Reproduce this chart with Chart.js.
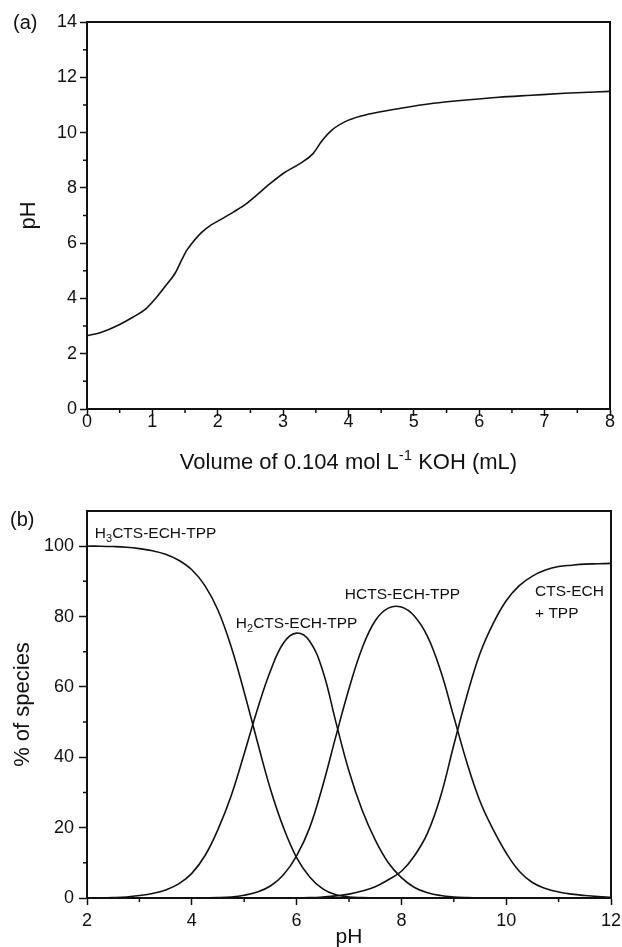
<!DOCTYPE html>
<html>
<head>
<meta charset="utf-8">
<script src="https://cdn.jsdelivr.net/npm/chart.js@4.4.1/dist/chart.umd.min.js"></script>
<style>
  html, body { margin: 0; padding: 0; background: #fff; }
  #wrap { position: relative; width: 622px; height: 947px; }
  .panel { position: absolute; left: 0; width: 622px; }
</style>
</head>
<body>
<div id="wrap">
  <div class="panel" style="top:0;height:475px"><canvas id="titration" width="622" height="475"></canvas></div>
  <div class="panel" style="top:475px;height:472px"><canvas id="species" width="622" height="472"></canvas></div>
</div>
<script>
// (a) titration curve
const volumeKOH = [0, 0.2, 0.5, 0.7, 0.9, 1.05, 1.2, 1.35, 1.45, 1.52, 1.6, 1.75, 1.9, 2.05, 2.25, 2.45,
                   2.6, 2.8, 3.0, 3.25, 3.45, 3.6, 3.75, 4.0, 4.3, 4.8, 5.3, 5.8, 6.3, 6.8, 7.3, 8.0];
const titrationPH = [2.65, 2.76, 3.06, 3.32, 3.62, 4.0, 4.45, 4.92, 5.4, 5.72, 5.98, 6.38, 6.66, 6.86, 7.14, 7.45,
                     7.75, 8.15, 8.52, 8.87, 9.22, 9.72, 10.1, 10.45, 10.66, 10.88, 11.06, 11.18, 11.28, 11.35, 11.42, 11.49];
const volumeTicks = [0, 1, 2, 3, 4, 5, 6, 7, 8];
const volumeMinor = [0.5, 1.5, 2.5, 3.5, 4.5, 5.5, 6.5, 7.5];
const phTicksA = [0, 2, 4, 6, 8, 10, 12, 14];
const phMinorA = [1, 3, 5, 7, 9, 11, 13];

// (b) species distribution, % of each species vs pH
const phGrid = [2, 2.25, 2.5, 2.75, 3, 3.25, 3.5, 3.75, 4, 4.25, 4.5, 4.75, 5, 5.25, 5.5, 5.75, 6, 6.25, 6.5, 6.75,
                7, 7.25, 7.5, 7.75, 8, 8.25, 8.5, 8.75, 9, 9.25, 9.5, 9.75, 10, 10.25, 10.5, 10.75, 11, 11.25, 11.5, 11.75, 12];
const h3Species = [100, 100, 99.9, 99.7, 99.3, 98.7, 97.7, 96.0, 93.3, 88.8,
                   81.8, 71.5, 58.5, 44.5, 31.0, 20.0, 11.5, 6.0, 2.6, 0.9,
                   0.3, 0.1, 0, 0, 0, 0, 0, 0, 0, 0,
                   0, 0, 0, 0, 0, 0, 0, 0, 0, 0, 0];
const h2Species = [0, 0, 0.1, 0.3, 0.7, 1.3, 2.3, 4.0, 7.0, 12.0,
                   19.5, 29.0, 41.0, 53.5, 64.5, 72.5, 75.3, 73.0, 64.5, 50.0,
                   36.0, 25.0, 16.5, 10.0, 5.8, 3.0, 1.5, 0.7, 0.3, 0.1,
                   0, 0, 0, 0, 0, 0, 0, 0, 0, 0, 0];
const h1Species = [0, 0, 0, 0, 0, 0, 0, 0, 0, 0.05,
                   0.1, 0.3, 0.8, 1.7, 3.4, 6.6, 12.0, 20.0, 32.0, 46.0,
                   59.5, 71.0, 78.8, 82.4, 82.7, 80.1, 74.3, 64.5, 51.5, 38.5,
                   27.5, 19.5, 12.8, 7.6, 4.4, 2.7, 1.7, 1.1, 0.7, 0.4, 0.2];
const h0Species = [0, 0, 0, 0, 0, 0, 0, 0, 0, 0,
                   0, 0, 0, 0, 0, 0, 0, 0.1, 0.3, 0.6,
                   1.1, 2.0, 3.2, 5.2, 7.6, 12.0, 18.5, 29.0, 43.5, 57.5,
                   69.5, 78.0, 84.5, 88.8, 91.5, 93.2, 94.2, 94.6, 94.9, 95.0, 95.1];
const phTicksB = [2, 4, 6, 8, 10, 12];
const phMinorB = [3, 5, 7, 9, 11];
const pctTicks = [0, 20, 40, 60, 80, 100];
const pctMinor = [10, 30, 50, 70, 90];

// species labels: text parts and anchor (pH, %)
const speciesLabels = [
  { parts: [['H'], ['3', 'sub'], ['CTS-ECH-TPP']], at: [2.15, 102.3] },
  { parts: [['H'], ['2', 'sub'], ['CTS-ECH-TPP']], at: [4.84, 76.8] },
  { parts: [['HCTS-ECH-TPP']], at: [6.92, 85.0] },
  { parts: [['CTS-ECH']], at: [10.55, 85.8] },
  { parts: [['+ TPP']], at: [10.55, 79.6] }
];

const INK = '#111';
const FONT = '"Liberation Sans", Arial, Helvetica, sans-serif';

function toPoints(xs, ys) {
  return xs.map((x, i) => ({ x: x, y: ys[i] }));
}

// draws text with sub/superscript pieces
function drawRich(ctx, parts, x, y, size, align) {
  const small = Math.round(size * 0.7);
  let width = 0;
  parts.forEach(p => {
    ctx.font = (p[1] ? small : size) + 'px ' + FONT;
    width += ctx.measureText(p[0]).width;
  });
  let cx = align === 'center' ? x - width / 2 : x;
  ctx.textAlign = 'left';
  ctx.textBaseline = 'alphabetic';
  parts.forEach(p => {
    ctx.font = (p[1] ? small : size) + 'px ' + FONT;
    let dy = 0;
    if (p[1] === 'sub') dy = size * 0.28;
    if (p[1] === 'sup') dy = -size * 0.42;
    ctx.fillText(p[0], cx, y + dy);
    cx += ctx.measureText(p[0]).width;
  });
}

function lineSet(xs, ys, monotone) {
  return {
    data: toPoints(xs, ys),
    borderColor: INK,
    borderWidth: 1.6,
    pointRadius: 0,
    fill: false,
    tension: 0.4,
    cubicInterpolationMode: monotone ? 'monotone' : 'default'
  };
}

function axis(min, max, ticks, fixed, isX, pad, tickLen) {
  return {
    type: 'linear',
    min: min,
    max: max,
    afterBuildTicks: s => { s.ticks = ticks.map(v => ({ value: v })); },
    afterFit: s => {
      if (isX) { s.height = fixed; s.paddingLeft = 0; s.paddingRight = 0; }
      else { s.width = fixed; s.paddingTop = 0; s.paddingBottom = 0; }
    },
    border: { display: true, color: INK, width: 2 },
    grid: { display: true, drawOnChartArea: false, drawTicks: true, tickLength: tickLen, tickWidth: 1.5, tickColor: INK },
    ticks: { color: INK, font: { family: FONT, size: 18 }, padding: pad, maxRotation: 0 },
    title: { display: false }
  };
}

// frame on top/right, minor ticks, and free text
function framePlugin(xMinor, yMinor, drawText) {
  return {
    id: 'frame',
    afterDraw(chart) {
      const ctx = chart.ctx, a = chart.chartArea;
      const xs = chart.scales.x, ys = chart.scales.y;
      ctx.save();
      ctx.strokeStyle = INK;
      ctx.lineWidth = 2;
      ctx.beginPath();
      ctx.moveTo(a.left, a.top);
      ctx.lineTo(a.right, a.top);
      ctx.lineTo(a.right, a.bottom);
      ctx.stroke();
      ctx.lineWidth = 1.5;
      ctx.beginPath();
      xMinor.forEach(v => {
        const px = xs.getPixelForValue(v);
        ctx.moveTo(px, a.bottom);
        ctx.lineTo(px, a.bottom + 4);
      });
      yMinor.forEach(v => {
        const py = ys.getPixelForValue(v);
        ctx.moveTo(a.left, py);
        ctx.lineTo(a.left - 4, py);
      });
      ctx.stroke();
      ctx.fillStyle = INK;
      drawText(ctx, chart);
      ctx.restore();
    }
  };
}

function rotatedText(ctx, text, x, y, size) {
  ctx.save();
  ctx.translate(x, y);
  ctx.rotate(-Math.PI / 2);
  ctx.font = size + 'px ' + FONT;
  ctx.textAlign = 'center';
  ctx.textBaseline = 'middle';
  ctx.fillText(text, 0, 0);
  ctx.restore();
}

const baseOptions = {
  responsive: false,
  animation: false,
  plugins: { legend: { display: false }, tooltip: { enabled: false } }
};

new Chart(document.getElementById('titration'), {
  type: 'line',
  data: { datasets: [lineSet(volumeKOH, titrationPH, true)] },
  options: Object.assign({}, baseOptions, {
    layout: { padding: { left: 0, top: 22, right: 12, bottom: 0 } },
    scales: {
      x: axis(0, 8, volumeTicks, 66, true, -5, 7),
      y: axis(0, 14, phTicksA, 87, false, 3, 7)
    }
  }),
  plugins: [framePlugin(volumeMinor, phMinorA, (ctx, chart) => {
    drawRich(ctx, [['(a)']], 13, 29, 20, 'left');
    rotatedText(ctx, 'pH', 29, (chart.chartArea.top + chart.chartArea.bottom) / 2, 22);
    const mid = (chart.chartArea.left + chart.chartArea.right) / 2;
    drawRich(ctx, [['Volume of 0.104 mol L'], ['-1', 'sup'], [' KOH (mL)']], mid, 469, 22, 'center');
  })]
});

new Chart(document.getElementById('species'), {
  type: 'line',
  data: {
    datasets: [
      lineSet(phGrid, h3Species, false),
      lineSet(phGrid, h2Species, false),
      lineSet(phGrid, h1Species, false),
      lineSet(phGrid, h0Species, false)
    ]
  },
  options: Object.assign({}, baseOptions, {
    layout: { padding: { left: 0, top: 36, right: 11, bottom: 0 } },
    scales: {
      x: axis(2, 12, phTicksB, 49, true, 5, 7),
      y: axis(0, 110, pctTicks, 87, false, 5, 8)
    }
  }),
  plugins: [framePlugin(phMinorB, pctMinor, (ctx, chart) => {
    const xs = chart.scales.x, ys = chart.scales.y;
    drawRich(ctx, [['(b)']], 10, 51, 20, 'left');
    rotatedText(ctx, '% of species', 23, (chart.chartArea.top + chart.chartArea.bottom) / 2, 22);
    const mid = (chart.chartArea.left + chart.chartArea.right) / 2;
    drawRich(ctx, [['pH']], mid, 468, 21, 'center');
    speciesLabels.forEach(l => {
      drawRich(ctx, l.parts, xs.getPixelForValue(l.at[0]), ys.getPixelForValue(l.at[1]), 15.5, 'left');
    });
  })]
});
</script>
</body>
</html>
